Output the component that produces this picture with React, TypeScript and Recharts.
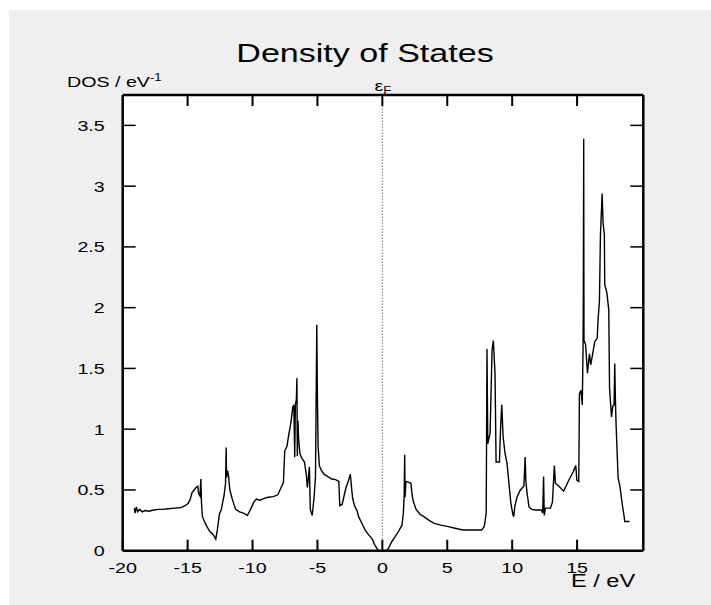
import React from 'react';
import { LineChart, Line, XAxis, YAxis, CartesianGrid, ReferenceLine } from 'recharts';

// energies (eV) and DOS (1/eV)
const energy = [
  -19.1, -19.05, -18.95, -18.85, -18.7, -18.5, -18.28, -18.0, -17.6, -17.25, -16.9, -16.5, -15.97, -15.5, -15.2,
  -14.95, -14.81, -14.65, -14.5, -14.35, -14.22, -14.15, -14.05, -13.98, -13.93, -13.86, -13.7, -13.52, -13.3,
  -13.01, -12.83, -12.7, -12.55, -12.4, -12.3, -12.2, -12.08, -12.03, -12.0, -11.93, -11.85, -11.75, -11.55,
  -11.3, -11.0, -10.7, -10.4, -10.15, -9.9, -9.7, -9.45, -9.1, -8.8, -8.4, -8.05, -7.8, -7.62, -7.52, -7.35,
  -7.2, -7.05, -6.9, -6.82, -6.75, -6.7, -6.62, -6.58, -6.55, -6.5, -6.45, -6.35, -6.2, -6.0, -5.85, -5.78,
  -5.72, -5.62, -5.55, -5.4, -5.25, -5.15, -5.05, -5.0, -4.95, -4.85, -4.7, -4.5, -4.2, -3.9, -3.6, -3.35,
  -3.28, -3.1, -2.95, -2.8, -2.6, -2.47, -2.4, -2.3, -2.2, -2.1, -1.95, -1.83, -1.6, -1.32, -1.05, -0.8, -0.6,
  -0.42, -0.3, 0.3, 0.48, 0.7, 0.99, 1.25, 1.51, 1.62, 1.68, 1.72, 1.75, 1.82, 2.0, 2.2, 2.3, 2.4, 2.6, 2.9,
  3.2, 3.6, 4.0, 4.5, 5.0, 5.6, 6.2, 7.0, 7.65, 7.85, 8.0, 8.06, 8.12, 8.3, 8.45, 8.55, 8.68, 8.76, 9.02, 9.1,
  9.2, 9.3, 9.45, 9.6, 9.8, 9.9, 10.05, 10.12, 10.2, 10.38, 10.63, 10.9, 11.0, 11.05, 11.15, 11.3, 11.5, 11.8,
  12.25, 12.35, 12.42, 12.47, 12.56, 12.95, 13.1, 13.25, 13.33, 13.6, 13.97, 14.36, 14.7, 14.9, 14.98, 15.13,
  15.18, 15.3, 15.4, 15.46, 15.48, 15.51, 15.53, 15.65, 15.8, 15.95, 16.05, 16.2, 16.36, 16.55, 16.62, 16.72,
  16.8, 16.93, 17.0, 17.1, 17.13, 17.3, 17.44, 17.5, 17.65, 17.75, 17.85, 17.9, 17.95, 18.01, 18.16, 18.3,
  18.47, 18.68, 19.04,
];
const dos = [
  0.35, 0.31, 0.36, 0.32, 0.34, 0.32, 0.33, 0.325, 0.335, 0.34, 0.34, 0.345, 0.35, 0.355, 0.37,
  0.39, 0.42, 0.48, 0.5, 0.52, 0.53, 0.47, 0.45, 0.59, 0.39, 0.28, 0.24, 0.2, 0.16,
  0.13, 0.095, 0.18, 0.3, 0.34, 0.4, 0.45, 0.55, 0.85, 0.6, 0.66, 0.62, 0.5, 0.42,
  0.34, 0.32, 0.31, 0.29, 0.34, 0.4, 0.425, 0.415, 0.43, 0.44, 0.445, 0.46, 0.52, 0.56, 0.82, 0.86,
  0.96, 1.05, 1.18, 1.2, 0.77, 1.2, 1.25, 1.42, 0.78, 1.07, 0.92, 0.8, 0.76, 0.73, 0.62, 0.52,
  0.57, 0.69, 0.34, 0.29, 0.45, 0.61, 1.86, 1.25, 0.86, 0.7, 0.66, 0.63, 0.61, 0.59, 0.585, 0.57,
  0.37, 0.38, 0.45, 0.52, 0.58, 0.63, 0.55, 0.44, 0.39, 0.36, 0.33, 0.28, 0.23, 0.17, 0.13, 0.1, 0.05,
  0.02, 0, 0, 0.02, 0.07, 0.115, 0.16, 0.21, 0.31, 0.45, 0.79, 0.44, 0.57, 0.565, 0.555, 0.45, 0.4, 0.34, 0.3,
  0.28, 0.25, 0.225, 0.21, 0.2, 0.185, 0.17, 0.17, 0.17, 0.2, 0.31, 1.66, 0.88, 0.97, 1.65, 1.73, 1.45, 0.73, 0.73, 0.99,
  1.2, 0.94, 0.8, 0.72, 0.5, 0.39, 0.3, 0.28, 0.36, 0.445, 0.5, 0.53, 0.77, 0.58, 0.47, 0.36, 0.34, 0.335,
  0.335, 0.31, 0.61, 0.29, 0.35, 0.35, 0.4, 0.7, 0.555, 0.53, 0.49, 0.58, 0.65, 0.7, 0.58, 0.57,
  1.29, 1.32, 1.2, 1.68, 2.09, 3.39, 1.73, 1.7, 1.46, 1.62, 1.53, 1.62, 1.72, 1.75, 1.91, 2.05,
  2.6, 2.94, 2.7, 2.6, 2.19, 2.12, 1.98, 1.34, 1.1, 1.19, 1.2, 1.54, 1.25, 1.02, 0.6, 0.53,
  0.39, 0.24, 0.24,
];
const xTicks = [-20, -15, -10, -5, 0, 5, 10, 15];
const yTicks = [0, 0.5, 1, 1.5, 2, 2.5, 3, 3.5];

const data = energy.map((e, i) => ({ e, dos: dos[i] }));

const FONT = '"Liberation Sans", Arial, sans-serif';
const SX = 1.31; // the reference text is stretched horizontally
const MARGIN = { top: 95, right: 57.7, bottom: 24.3, left: 12.7 };

const Txt = ({ x, y, size, anchor, children }: any) => (
  <text
    transform={`translate(${x},${y}) scale(${SX},1)`}
    fontSize={size}
    fontFamily={FONT}
    textAnchor={anchor}
    fill="#000"
  >
    {children}
  </text>
);

// inward tick marks are drawn as thin rects
const TickMark = ({ x, y, w, h }: any) => <rect x={x} y={y} width={w} height={h} fill="#000" />;

const BottomTick = ({ x, y, payload }: any) => (
  <g>
    <TickMark x={x - 1} y={y - 11} w={2} h={11} />
    {payload.value > -20 && <TickMark x={x - 1} y={MARGIN.top} w={2} h={11} />}
    <Txt x={x} y={y + 22} size={15} anchor="middle">{payload.value}</Txt>
  </g>
);
const LeftTick = ({ x, y, payload }: any) => (
  <g>
    <TickMark x={x} y={y - 0.75} w={13} h={1.5} />
    <Txt x={x - 18} y={y + 5.5} size={15} anchor="end">{payload.value}</Txt>
  </g>
);
const RightTick = ({ x, y }: any) => <TickMark x={x - 13} y={y - 0.75} w={13} h={1.5} />;

const frame = { stroke: '#000', strokeWidth: 2.5 };

export default function App() {
  return (
    <div style={{ position: 'relative', width: 711, height: 605, background: '#fff' }}>
      <style>{'body{margin:0}'}</style>
      <div style={{ position: 'absolute', left: 9, top: 10, width: 702, height: 595, background: '#efefef' }} />
      <div style={{ position: 'absolute', left: 0, top: 0 }}>
        <LineChart width={711} height={605} data={data} margin={MARGIN}>
          <CartesianGrid horizontal={false} vertical={false} fill="#fff" xAxisId="b" yAxisId="l" />
          <XAxis xAxisId="b" dataKey="e" type="number" domain={[-20, 20.1]} ticks={xTicks} allowDataOverflow
            height={30} tickSize={0} tickMargin={0} tickLine={false} axisLine={frame} tick={BottomTick} interval={0} />
          <YAxis yAxisId="l" type="number" domain={[0, 3.75]} ticks={yTicks} allowDataOverflow
            width={110} tickSize={0} tickMargin={0} tickLine={false} axisLine={frame} tick={LeftTick} interval={0} />
          <YAxis yAxisId="r" orientation="right" type="number" domain={[0, 3.75]} ticks={yTicks.slice(1)} allowDataOverflow
            width={10} tickSize={0} tickMargin={0} tickLine={false} axisLine={frame} tick={RightTick} interval={0} />
          <ReferenceLine xAxisId="b" yAxisId="l" y={3.75} stroke="#000" strokeWidth={2.5} ifOverflow="visible" />
          <ReferenceLine xAxisId="b" yAxisId="l" x={0} stroke="#333" strokeWidth={1} strokeDasharray="1 2" />
          <Line xAxisId="b" yAxisId="l" type="linear" dataKey="dos" stroke="#000" strokeWidth={1.4}
            dot={false} activeDot={false} isAnimationActive={false} />
        </LineChart>
      </div>
      <svg width={711} height={605} style={{ position: 'absolute', left: 0, top: 0, pointerEvents: 'none' }}>
        <Txt x={365} y={62} size={26} anchor="middle">Density of States</Txt>
        <Txt x={67} y={87} size={15} anchor="start">
          DOS / eV<tspan fontSize={10} dy={-6}>-1</tspan>
        </Txt>
        <Txt x={383} y={91} size={15} anchor="middle">
          ε<tspan fontSize={10} dy={3}>F</tspan>
        </Txt>
        <Txt x={571} y={587} size={18} anchor="start">E / eV</Txt>
      </svg>
    </div>
  );
}
